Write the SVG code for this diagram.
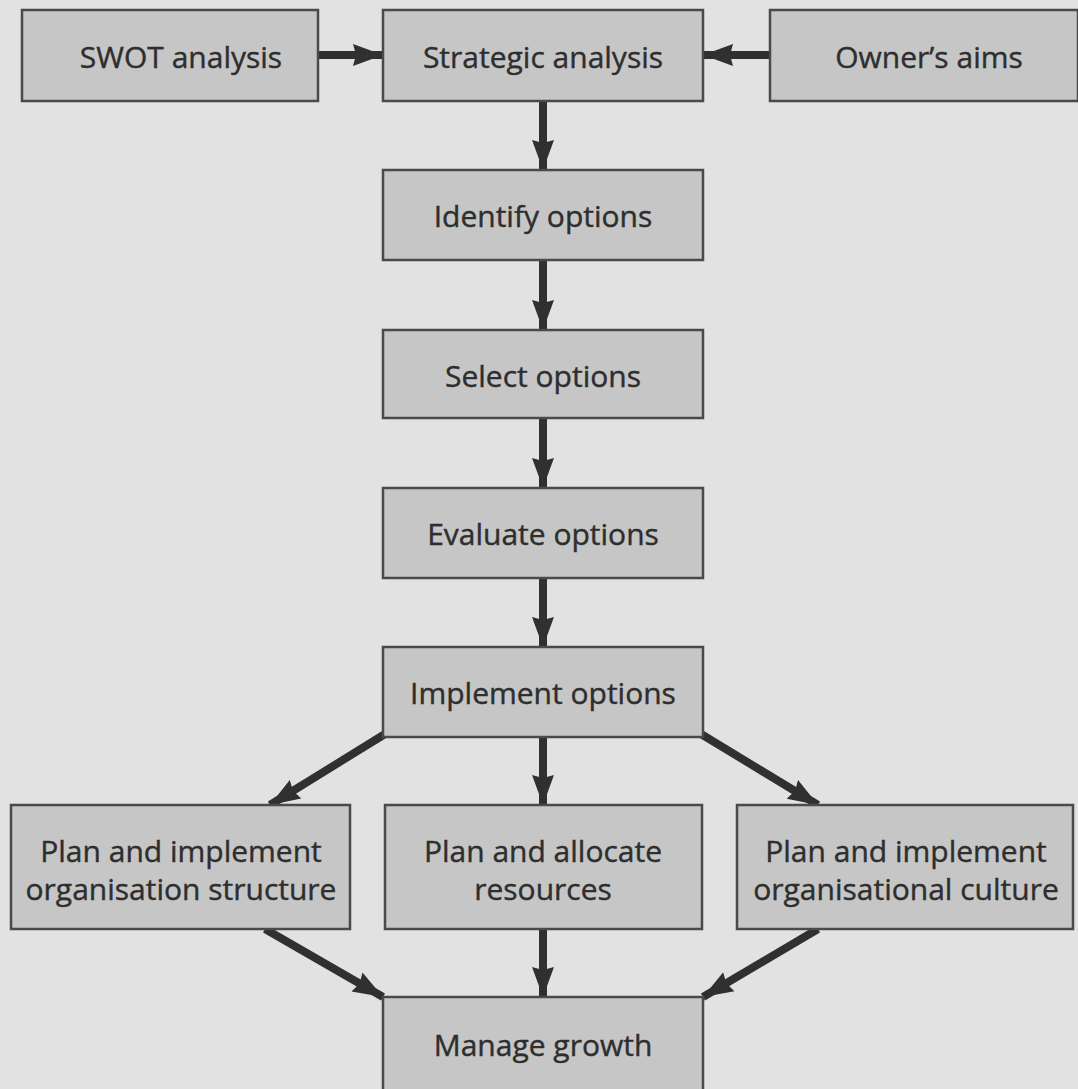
<svg xmlns="http://www.w3.org/2000/svg" width="1078" height="1089" viewBox="0 0 1078 1089">
  <style>
    .box { fill: #c6c6c6; stroke: #4a4a4a; stroke-width: 2.5; }
    .lbl { font-family: "Open Sans", "DejaVu Sans", sans-serif; font-size: 30px; fill: #2e2e2e; stroke: #2e2e2e; stroke-width: 0.4; text-anchor: middle; dominant-baseline: central; }
    .edge { stroke: #303030; stroke-width: 8; fill: none; marker-end: url(#head); }
  </style>
  <defs>
    <marker id="head" markerUnits="userSpaceOnUse" viewBox="0 0 30 24" refX="30" refY="12" markerWidth="30" markerHeight="24" orient="auto">
      <path d="M0,1 L30,12 L0,23 L3,12 Z" fill="#303030"/>
    </marker>
  </defs>

  <rect width="1078" height="1089" fill="#e2e2e2"/>

  <g id="connectors">
    <line class="edge" x1="318" y1="55" x2="383" y2="55"/>
    <line class="edge" x1="770" y1="55" x2="703" y2="55"/>
    <line class="edge" x1="543" y1="101" x2="543" y2="170"/>
    <line class="edge" x1="543" y1="260" x2="543" y2="330"/>
    <line class="edge" x1="543" y1="418" x2="543" y2="488"/>
    <line class="edge" x1="543" y1="578" x2="543" y2="647"/>
    <line class="edge" x1="385" y1="734" x2="270" y2="805"/>
    <line class="edge" x1="543" y1="737" x2="543" y2="805"/>
    <line class="edge" x1="701" y1="734" x2="818" y2="805"/>
    <line class="edge" x1="265" y1="929" x2="383" y2="997"/>
    <line class="edge" x1="543" y1="930" x2="543" y2="997"/>
    <line class="edge" x1="818" y1="929" x2="703" y2="997"/>
  </g>

  <g id="swot">
    <rect class="box" x="22" y="10" width="296" height="91"/>
    <text class="lbl" x="181" y="56">SWOT analysis</text>
  </g>
  <g id="strategic">
    <rect class="box" x="383" y="10" width="320" height="91"/>
    <text class="lbl" x="543" y="56">Strategic analysis</text>
  </g>
  <g id="owners">
    <rect class="box" x="770" y="10" width="308" height="91"/>
    <text class="lbl" x="929" y="56">Owner’s aims</text>
  </g>
  <g id="identify">
    <rect class="box" x="383" y="170" width="320" height="90"/>
    <text class="lbl" x="543" y="215">Identify options</text>
  </g>
  <g id="select">
    <rect class="box" x="383" y="330" width="320" height="88"/>
    <text class="lbl" x="543" y="375">Select options</text>
  </g>
  <g id="evaluate">
    <rect class="box" x="383" y="488" width="320" height="90"/>
    <text class="lbl" x="543" y="533">Evaluate options</text>
  </g>
  <g id="implement">
    <rect class="box" x="383" y="647" width="320" height="90"/>
    <text class="lbl" x="543" y="692">Implement options</text>
  </g>
  <g id="structure">
    <rect class="box" x="11" y="805" width="339" height="124"/>
    <text class="lbl" x="181" y="850">Plan and implement</text>
    <text class="lbl" x="181" y="888">organisation structure</text>
  </g>
  <g id="resources">
    <rect class="box" x="385" y="805" width="317" height="124"/>
    <text class="lbl" x="543" y="850">Plan and allocate</text>
    <text class="lbl" x="543" y="888">resources</text>
  </g>
  <g id="culture">
    <rect class="box" x="737" y="805" width="336" height="124"/>
    <text class="lbl" x="906" y="850">Plan and implement</text>
    <text class="lbl" x="906" y="888">organisational culture</text>
  </g>
  <g id="growth">
    <rect class="box" x="383" y="997" width="320" height="100"/>
    <text class="lbl" x="543" y="1044">Manage growth</text>
  </g>
</svg>
